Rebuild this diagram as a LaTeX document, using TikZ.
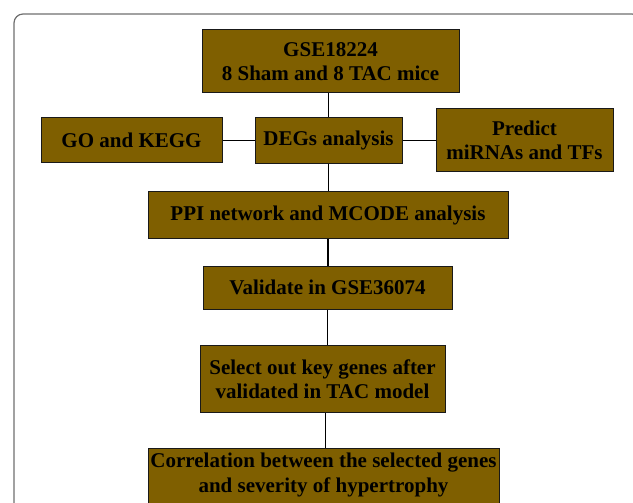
\documentclass[tikz,border=0pt]{standalone}
\usepackage{fontspec}
\setmainfont{Liberation Serif}
\definecolor{boxfill}{RGB}{127,95,0}
\definecolor{framegray}{RGB}{110,110,110}
\begin{document}
\begin{tikzpicture}[x=1pt,y=-1pt,
  flowbox/.style={draw=black!90, line width=1pt, fill=boxfill, inner sep=0pt,
    align=center, font=\bfseries\fontsize{21}{24.5}\selectfont, text=black},
  boxtext/.style={inner sep=0pt, align=center, font=\bfseries\fontsize{21}{24.5}\selectfont, text=black},
  link/.style={draw=black, line width=1.6pt}]
\useasboundingbox (0,0) rectangle (633,503);
\clip (0,0) rectangle (633,503);
\draw[framegray, line width=1.2pt, rounded corners=9pt] (14,14) rectangle (641,540);

\node[flowbox, minimum width=257, minimum height=63] (gse) at (330.5,61.5) {GSE18224\\8 Sham and 8 TAC mice};
\node[flowbox, minimum width=181, minimum height=45] (go) at (131.5,140.5) {GO and KEGG};
\node[flowbox, minimum width=147, minimum height=46] (degs) at (328.5,140.5) {DEGs analysis};
\node[flowbox, minimum width=177, minimum height=63] (pred) at (524.5,140.5) {Predict\\miRNAs and TFs};
\node[flowbox, minimum width=360, minimum height=46] (ppi) at (328,215) {PPI network and MCODE analysis};
\node[flowbox, minimum width=249, minimum height=43] (val) at (327.5,287.5) {Validate in GSE36074};
\node[flowbox, minimum width=245, minimum height=67] (sel) at (322.5,379) {Select out key genes after\\validated in TAC model};
\node[flowbox, minimum width=351, minimum height=80, anchor=north] (corr) at (323.5,447.5) {};
\node[boxtext] (corrtext) at (323.5,475) {Correlation between the selected genes\\and severity of hypertrophy};

\draw[link] (degs.north) -- (degs.north |- gse.south);
\draw[link] (go.east) -- (degs.west);
\draw[link] (degs.east) -- (pred.west |- degs.east);
\draw[link] (degs.south) -- (degs.south |- ppi.north);
\draw[link] (ppi.south) -- (ppi.south |- val.north);
\draw[link] (val.south) -- (val.south |- sel.north);
\draw[link] ([xshift=3pt]sel.south) -- ([xshift=3pt]sel.south |- corr.north);
\end{tikzpicture}
\end{document}
